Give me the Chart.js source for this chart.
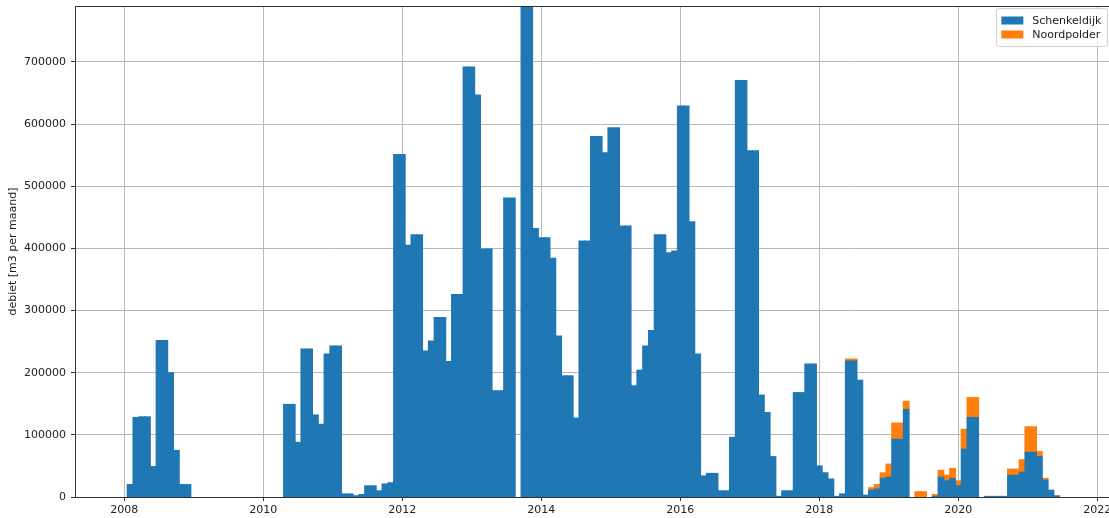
<!DOCTYPE html>
<html>
<head>
<meta charset="utf-8">
<script src="https://cdn.jsdelivr.net/npm/chart.js@4.4.1/dist/chart.umd.min.js"></script>
<style>
  html, body { margin: 0; padding: 0; background: #fff; overflow: hidden; }
  #wrap { width: 1109px; height: 518px; overflow: hidden; }
</style>
</head>
<body>
<div id="wrap"><canvas id="chart" width="1140" height="518"></canvas></div>
<script>
// monthly volumes, one entry per month starting January of the start year
const schenkeldijkStart = 2008;
const schenkeldijk = [
  // 2008
  20000, 128000, 129000, 129000, 49000, 252000, 252000, 200000, 75000, 20000, 20000, 0,
  // 2009
  0, 0, 0, 0, 0, 0, 0, 0, 0, 0, 0, 0,
  // 2010
  0, 0, 0, 149000, 149000, 88000, 238000, 238000, 132000, 117000, 230000, 243000,
  // 2011
  243000, 5000, 5000, 2000, 4000, 18000, 18000, 10000, 21000, 23000, 551000, 551000,
  // 2012
  405000, 422000, 422000, 235000, 251000, 289000, 289000, 218000, 326000, 326000, 692000, 692000,
  // 2013
  647000, 399000, 399000, 171000, 171000, 481000, 481000, 0, 850000, 850000, 432000, 417000,
  // 2014
  417000, 384000, 259000, 195000, 195000, 127000, 412000, 412000, 580000, 580000, 554000, 594000,
  // 2015
  594000, 436000, 436000, 179000, 204000, 243000, 268000, 422000, 422000, 393000, 396000, 629000,
  // 2016
  629000, 443000, 230000, 34000, 38000, 38000, 10000, 10000, 96000, 670000, 670000, 557000,
  // 2017
  557000, 164000, 136000, 65000, 1000, 10000, 10000, 168000, 168000, 214000, 214000, 50000,
  // 2018
  39000, 29000, 1000, 5000, 219000, 219000, 188000, 3000, 11000, 13000, 30000, 32000,
  // 2019
  93000, 93000, 141000, 0, 0, 0, 0, 1000, 32000, 26000, 30000, 18000,
  // 2020
  77000, 128000, 128000, 0, 1000, 1000, 1000, 1000, 35000, 35000, 40000, 72000,
  // 2021
  72000, 65000, 27000, 11000, 2000, 0,
];

const noordpolderStart = 2018;
const noordpolder = [
  // 2018
  0, 0, 0, 0, 3000, 3000, 0, 0, 4000, 7000, 9000, 21000,
  // 2019
  26000, 26000, 13000, 0, 8500, 8500, 0, 3000, 11000, 9000, 16000, 8000,
  // 2020
  32000, 32000, 32000, 0, 0, 0, 0, 0, 10000, 10000, 20000, 41000,
  // 2021
  41000, 8000, 3000, 0, 0, 0,
];

const xTicks = [2008, 2010, 2012, 2014, 2016, 2018, 2020, 2022];
const yTicks = [0, 100000, 200000, 300000, 400000, 500000, 600000, 700000];

// bar sits at the end of its month, in decimal years
function monthX(year, index) {
  return (year * 12 + index + 1) / 12;
}

function toPoints(year, values) {
  return values.map((v, i) => ({ x: monthX(year, i), y: v }));
}

// a little overlap hides seams between neighbouring months, but empty months stay empty
const inflate = (ctx) => (ctx.raw && ctx.raw.y ? 0.5 : 0);

const framePlugin = {
  id: "frame",
  afterDraw(chart) {
    const { ctx, chartArea } = chart;
    const l = Math.round(chartArea.left) + 0.5;
    const t = Math.round(chartArea.top) + 0.5;
    const r = Math.round(chartArea.right) + 0.5;
    const b = Math.round(chartArea.bottom) + 0.5;
    ctx.save();
    ctx.strokeStyle = "#333";
    ctx.lineWidth = 1;
    ctx.strokeRect(l, t, r - l, b - t);
    ctx.restore();
  },
};

const boxLegend = {
  id: "boxLegend",
  afterDraw(chart) {
    const { ctx } = chart;
    const xs = chart.scales.x;
    const w = 111;
    const h = 38;
    // anchor the box just right of the 2022 grid line, like the source
    const x = xs.getPixelForValue(2022) + 10 - w;
    const y = chart.chartArea.top + 2;
    ctx.save();
    ctx.fillStyle = "rgba(255,255,255,0.85)";
    ctx.strokeStyle = "#d0d0d0";
    ctx.lineWidth = 1;
    ctx.beginPath();
    ctx.roundRect(Math.round(x) + 0.5, Math.round(y) + 0.5, w, h, 3);
    ctx.fill();
    ctx.stroke();
    ctx.font = "11px 'DejaVu Sans'";
    ctx.textBaseline = "middle";
    chart.data.datasets.forEach((ds, i) => {
      const rowY = y + 12.5 + i * 14;
      ctx.fillStyle = ds.backgroundColor;
      ctx.fillRect(x + 5, rowY - 4, 22, 8);
      ctx.fillStyle = "#222";
      ctx.fillText(ds.label, x + 36, rowY + 0.5);
    });
    ctx.restore();
  },
};

Chart.defaults.font.family = "'DejaVu Sans', sans-serif";
Chart.defaults.font.size = 11;
Chart.defaults.color = "#222";

new Chart(document.getElementById("chart"), {
  type: "bar",
  data: {
    datasets: [
      {
        label: "Schenkeldijk",
        data: toPoints(schenkeldijkStart, schenkeldijk),
        backgroundColor: "#1f77b4",
        borderWidth: 0,
        inflateAmount: inflate,
        barPercentage: 1,
        categoryPercentage: 1,
      },
      {
        label: "Noordpolder",
        data: toPoints(noordpolderStart, noordpolder),
        backgroundColor: "#ff7f0e",
        borderWidth: 0,
        inflateAmount: inflate,
        barPercentage: 1,
        categoryPercentage: 1,
      },
    ],
  },
  options: {
    responsive: false,
    animation: false,
    events: [],
    layout: { padding: { left: 0, top: 6, right: 28, bottom: 0 } },
    plugins: {
      legend: { display: false },
      tooltip: { enabled: false },
    },
    scales: {
      x: {
        type: "linear",
        stacked: true,
        offset: false,
        min: 2007.291,
        max: 2022.211,
        z: 1,
        afterBuildTicks: (axis) => {
          axis.ticks = xTicks.map((v) => ({ value: v }));
        },
        afterFit: (axis) => {
          axis.height = 21;
          axis.paddingLeft = 0;
          axis.paddingRight = 0;
        },
        ticks: {
          autoSkip: false,
          maxRotation: 0,
          padding: 3,
          callback: (v) => String(v),
        },
        grid: {
          offset: false,
          color: "#b8b8b8",
          lineWidth: 1,
          tickColor: "#333",
          tickLength: 4,
        },
        border: { display: false },
      },
      y: {
        stacked: true,
        min: 0,
        max: 790000,
        z: 1,
        afterBuildTicks: (axis) => {
          axis.ticks = yTicks.map((v) => ({ value: v }));
        },
        afterFit: (axis) => {
          axis.width = 75;
          axis.paddingTop = 0;
          axis.paddingBottom = 0;
        },
        ticks: {
          padding: 5,
          callback: (v) => String(v),
        },
        grid: {
          color: "#b8b8b8",
          lineWidth: 1,
          tickColor: "#333",
          tickLength: 4,
        },
        border: { display: false },
        title: {
          display: true,
          text: "debiet [m3 per maand]",
          font: { size: 11 },
          padding: { top: 7, bottom: 0 },
        },
      },
    },
  },
  plugins: [framePlugin, boxLegend],
});
</script>
</body>
</html>
